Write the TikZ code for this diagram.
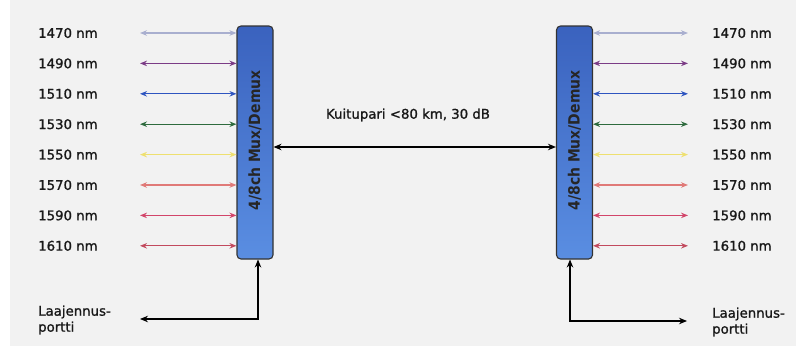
\documentclass[tikz,border=0pt]{standalone}
\usepackage{fontspec}
\setmainfont{DejaVu Sans}[FakeBold=1.2]
\newfontfamily\boxfont{DejaVu Sans Condensed}
\usetikzlibrary{arrows.meta}
\definecolor{bgpanel}{HTML}{F2F2F2}
\definecolor{cA}{HTML}{A9AFCF}
\definecolor{cB}{HTML}{7B3C86}
\definecolor{cC}{HTML}{2E55C0}
\definecolor{cD}{HTML}{2E6B3E}
\definecolor{cE}{HTML}{EEE070}
\definecolor{cF}{HTML}{E07A78}
\definecolor{cG}{HTML}{D2456A}
\definecolor{cH}{HTML}{C24A5E}
\definecolor{boxtop}{HTML}{3A62BE}
\definecolor{boxbot}{HTML}{5A8EE2}
\tikzset{
  muxbox/.style={draw=black!80, line width=1.1pt, rounded corners=4pt, minimum width=36pt, minimum height=233pt, top color=boxtop, bottom color=boxbot, inner sep=0pt},
  chan/.style={line width=1.1pt, {Stealth[length=7pt,width=5.5pt]}-{Stealth[length=7pt,width=5.5pt]}},
  blk/.style={line width=1.1pt, black},
  lbl/.style={font=\fontsize{13.3}{16}\selectfont, inner sep=0pt, text=black!90},
  boxtxt/.style={rotate=90, font=\boxfont\bfseries\fontsize{15.5}{17}\selectfont, text=black!85},
}
\begin{document}
\begin{tikzpicture}[x=1pt,y=-1pt]
\useasboundingbox (0,0) rectangle (802,356);
\fill[white] (0,0) rectangle (802,356);
\fill[bgpanel] (10,0) rectangle (796,346);
\node[muxbox] (L) at (255,142.5) {};
\node[muxbox] (R) at (574.5,142.5) {};
\node[boxtxt] (Lt) at ([yshift=2pt]L.center) {4/8ch Mux/Demux};
\node[boxtxt] (Rt) at ([yshift=2pt]R.center) {4/8ch Mux/Demux};
% channels
\foreach \i/\t/\c in {0/1470/cA,1/1490/cB,2/1510/cC,3/1530/cD,4/1550/cE,5/1570/cF,6/1590/cG,7/1610/cH}{
  \pgfmathsetmacro\yy{33+\i*30.4}
  \coordinate (la\i) at (140,\yy);
  \coordinate (ra\i) at (688,\yy);
  \node[lbl, anchor=west] (lt\i) at (38,\yy) {\t\ nm};
  \node[lbl, anchor=west] (rt\i) at (712,\yy) {\t\ nm};
  \draw[chan, \c] (la\i) -- (L.west |- la\i);
  \draw[chan, \c] (R.east |- ra\i) -- (ra\i);
}
% fibre pair
\draw[blk, {Stealth[length=8pt,width=6.5pt]}-{Stealth[length=8pt,width=6.5pt]}] (L.east |- 0,147) -- (R.west |- 0,147);
\node[lbl] (fib) at (408,115) {Kuitupari <80 km, 30 dB};
% expansion ports
\coordinate (lp) at (140,319);
\coordinate (rp) at (687,321);
\draw[blk, {Stealth[length=8pt,width=6.5pt]}-{Stealth[length=8pt,width=6.5pt]}] (lp) -- (258,319) -- (258,259.5);
\draw[blk, {Stealth[length=8pt,width=6.5pt]}-{Stealth[length=8pt,width=6.5pt]}] (rp) -- (570,321) -- (570,259.5);
\node[lbl, anchor=west, align=left] (lpt) at (38,320) {Laajennus-\\portti};
\node[lbl, anchor=west, align=left] (rpt) at (712,322) {Laajennus-\\portti};
\end{tikzpicture}
\end{document}
